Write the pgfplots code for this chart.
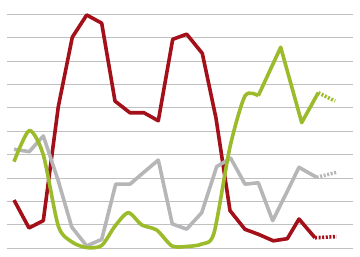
\documentclass[border=0pt]{standalone}
\usepackage{pgfplots}
\pgfplotsset{compat=1.18}
\definecolor{cred}{RGB}{163,16,26}
\definecolor{cgreen}{RGB}{156,187,42}
\definecolor{cgray}{RGB}{182,182,184}
\definecolor{cgrid}{RGB}{192,192,192}
\begin{document}
\begin{tikzpicture}
\begin{axis}[
  scale only axis, width=346pt, height=257pt,
  xmin=7, xmax=353, ymin=-3.72, ymax=106.1,
  axis line style={draw=none}, tick style={draw=none},
  xtick=\empty, ytick={0,10,...,100}, yticklabels={},
  ymajorgrids, grid style={cgrid, line width=0.9pt},
  clip=false,
]
% red
\addplot[cred, line width=3.6pt, line join=round] coordinates {
(14,20.6) (29,8.7) (43.3,11.8) (58.3,60.5) (72.3,90.2) (86.7,99.7) (101.7,96.2)
(115,62.9) (130,57.9) (144,57.9) (158.3,54.5) (172.7,89.3) (186.7,91.5) (202.3,83.3)
(216,55.6) (230,16.1) (245,8.1) (258.3,6.0) (273.3,3.2) (287.3,4.1) (299,12.5) (315,4.5)};
\addplot[cred, line width=3.6pt, dash pattern=on 2pt off 1.6pt] coordinates {(315,4.5) (336.7,5.0)};
% gray
\addplot[cgray, line width=3.6pt, line join=round] coordinates {
(14,42.3) (29.3,41.3) (43.3,48.0) (58,29.2) (71.7,9.1) (86.7,1.0) (101.7,3.8)
(115.7,27.4) (130,27.4) (143.3,32.3) (158.3,37.7) (172.3,10.4) (186.7,8.2) (201.7,15.2)
(216.7,34.9) (230.7,38.5) (245,27.4) (258.3,28.0) (272.7,11.8) (287,24.1) (299,34.6) (316.7,30.3)};
\addplot[cgray, line width=3.6pt, dash pattern=on 2pt off 1.6pt] coordinates {(316.7,30.3) (336.7,32.5)};
% green
\addplot[cgreen, line width=3.6pt, smooth, tension=0.45, line join=round] coordinates {
(14,37.0) (29.3,50.3) (43.3,39.9) (58.3,9.5) (72,2.7) (86.7,0.3) (101.7,1.2)
(115,9.5) (128.3,15.2) (141.7,10.0) (156.7,7.8) (172,1.0) (187,0.8) (201.7,1.8)
(214,6.5) (230,43.3) (245,65.1) (258.3,65.2)};
\addplot[cgreen, line width=3.6pt, line join=round] coordinates {
(258.3,65.2) (280.7,85.9) (301.7,53.7) (318.3,66.5)};
\addplot[cgreen, line width=3.6pt, dash pattern=on 2pt off 1.6pt] coordinates {(318.3,66.5) (335,62.9)};
\end{axis}
\pgfresetboundingbox
\useasboundingbox ([xshift=-7pt]current axis.south west) rectangle ([xshift=7pt]current axis.north east);
\end{tikzpicture}
\end{document}
